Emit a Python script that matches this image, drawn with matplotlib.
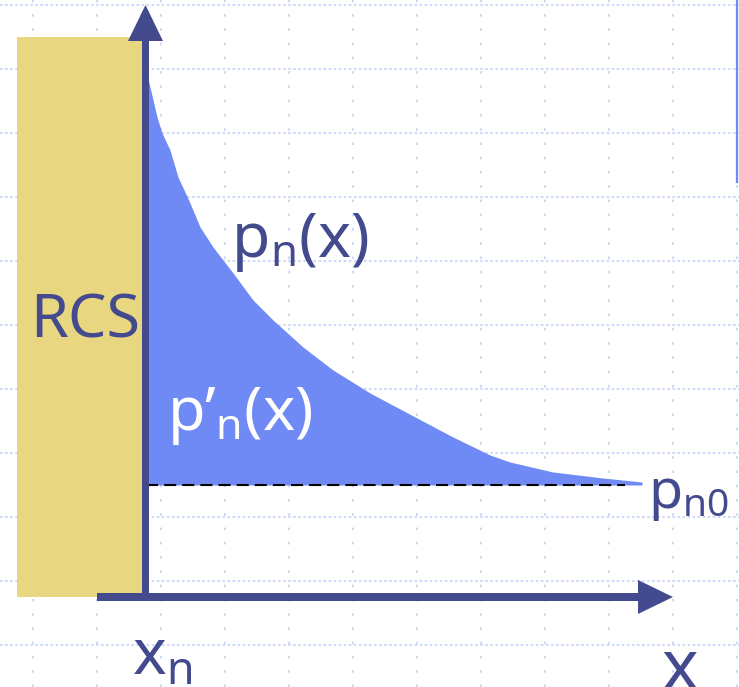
import matplotlib.pyplot as plt
from matplotlib.patches import Rectangle

plt.rcParams["font.family"] = ["Noto Sans", "DejaVu Sans"]
plt.rcParams["mathtext.fontset"] = "custom"
plt.rcParams["mathtext.rm"] = "Noto Sans"

# schematic units: origin where the two axes meet, 1 unit ~ 1 px
curve_x = [1, 5, 12, 17, 25, 33, 45, 55, 68, 88, 108, 128, 158, 188,
           225, 272, 308, 345, 365, 408, 458, 497]
curve_p = [527, 510, 480, 464, 447, 420, 394, 370, 350, 324, 297, 277, 250, 227,
           204, 179, 160, 142, 135, 125, 119, 115]
p_n0 = 112
pn0_end = 480
rcs_left, rcs_right, rcs_top = -128, -3, 560
grid_x = [-112, -48, 16, 80, 144, 208, 272, 336, 400, 464, 528, 592]
grid_y = [592, 528, 464, 400, 336, 272, 208, 144, 80, 16, -48]

axis_col = "#434a8e"
fill_col = "#6f8af5"
grid_col = "#c6d4f7"

fig = plt.figure(figsize=(7.39, 6.87), dpi=100)
ax = fig.add_axes([0, 0, 1, 1])
ax.set_xlim(-145, 594)
ax.set_ylim(-90, 597)
ax.axis("off")

for gy in grid_y:
    ax.axhline(gy, color=grid_col, lw=1.3, ls=(0, (1.4, 1.4)), zorder=0)
for gx in grid_x:
    ax.axvline(gx, color=grid_col, lw=1.3, ls=(0, (1.4, 6.5)), zorder=0)

# thin bar at right edge
ax.plot([592, 592], [597, 415], color=fill_col, lw=1.6, zorder=1)

ax.add_patch(Rectangle((rcs_left, 0), rcs_right - rcs_left, rcs_top,
                       facecolor="#e9d680", edgecolor="none", zorder=2))

ax.fill_between(curve_x, curve_p, p_n0, color=fill_col, lw=0, zorder=3)
ax.plot([1, pn0_end], [p_n0, p_n0], color="black", lw=1.5,
        ls=(0, (5.8, 2.9)), zorder=4)

ax.arrow(0.5, 0, 0, 592, width=7, head_width=35, head_length=36,
         length_includes_head=True, color=axis_col, lw=0, zorder=5)
ax.arrow(-48, 0, 576, 0, width=8, head_width=34, head_length=35,
         length_includes_head=True, color=axis_col, lw=0, zorder=5)

ax.text(-60, 259, "RCS", fontsize=44, color=axis_col, ha="center", va="baseline", zorder=6)
ax.text(86, 340, r"$\mathrm{p_n(x)}$", fontsize=45, color=axis_col, va="baseline", zorder=6)
ax.text(22, 167, "$\\mathrm{p\u2019_n(x)}$", fontsize=44, color="white", va="baseline", zorder=6)
ax.text(503, 89, r"$\mathrm{p_{n0}}$", fontsize=40, color=axis_col, va="baseline", zorder=6)
ax.text(-13, -78, r"$\mathrm{x_n}$", fontsize=46, color=axis_col, va="baseline", zorder=6)
ax.text(517, -92, "x", fontsize=50, color=axis_col, va="baseline", zorder=6)

fig.savefig("out.png", dpi=100)
